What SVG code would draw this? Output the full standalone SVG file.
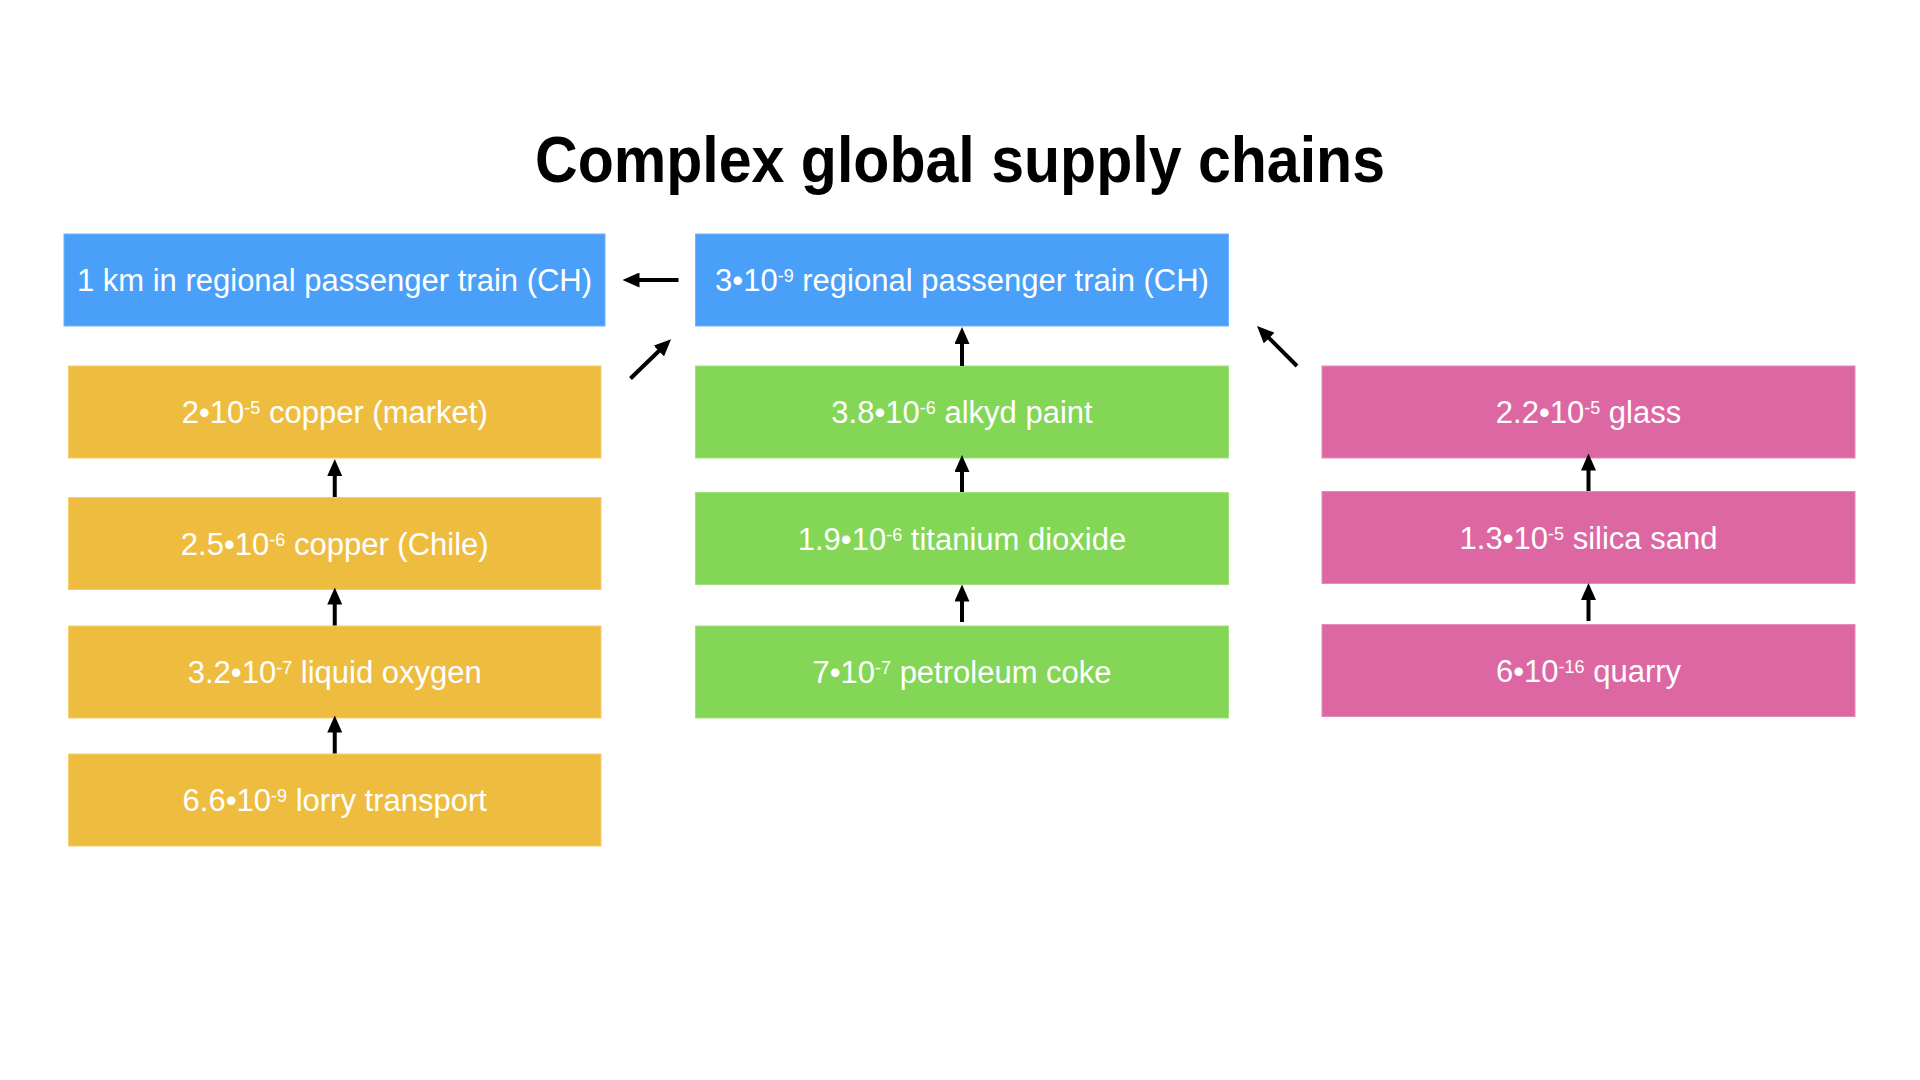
<svg xmlns="http://www.w3.org/2000/svg" width="1920" height="1080" viewBox="0 0 1920 1080">
  <defs>
    <style>
      .title { font-family: "Liberation Sans", Arial, Helvetica, sans-serif; font-weight: bold; font-size: 64px; fill: #000; }
      .lbl { font-family: "Liberation Sans", Arial, Helvetica, sans-serif; font-size: 31px; fill: #fff; text-anchor: middle; }
      .sup { font-size: 18px; }
      .train { fill: #4A9FF8; stroke: #6FB3FA; stroke-width: 1; }
      .copper { fill: #EEBD40; stroke: #F3CD6C; stroke-width: 1; }
      .paint { fill: #84D656; stroke: #A0E07C; stroke-width: 1; }
      .glass { fill: #DC67A2; stroke: #E58BB8; stroke-width: 1; }
      .link { stroke: #000; stroke-width: 4; fill: none; marker-end: url(#head); }
    </style>
    <marker id="head" viewBox="0 0 17 15" refX="9" refY="7.5" markerWidth="17" markerHeight="15" markerUnits="userSpaceOnUse" orient="auto">
      <path d="M0,0 L17,7.5 L0,15 Z" fill="#000"/>
    </marker>
  </defs>

  <rect width="1920" height="1080" fill="#fff"/>

  <text class="title" x="960" y="182" text-anchor="middle" textLength="850" lengthAdjust="spacingAndGlyphs">Complex global supply chains</text>

  <!-- final product and the train itself -->
  <g id="node-train-km">
    <rect class="train" x="64" y="234" width="541" height="92"/>
    <text class="lbl" x="334.5" y="291">1 km in regional passenger train (CH)</text>
  </g>
  <g id="node-train">
    <rect class="train" x="695.5" y="234" width="533" height="92"/>
    <text class="lbl" x="962" y="291">3•10<tspan class="sup" dy="-9">-9</tspan><tspan dy="9"> regional passenger train (CH)</tspan></text>
  </g>

  <!-- copper chain -->
  <g id="node-copper-market">
    <rect class="copper" x="68.5" y="366" width="532.5" height="92"/>
    <text class="lbl" x="334.75" y="423">2•10<tspan class="sup" dy="-9">-5</tspan><tspan dy="9"> copper (market)</tspan></text>
  </g>
  <g id="node-copper-chile">
    <rect class="copper" x="68.5" y="497.5" width="532.5" height="92"/>
    <text class="lbl" x="334.75" y="554.5">2.5•10<tspan class="sup" dy="-9">-6</tspan><tspan dy="9"> copper (Chile)</tspan></text>
  </g>
  <g id="node-liquid-oxygen">
    <rect class="copper" x="68.5" y="626" width="532.5" height="92"/>
    <text class="lbl" x="334.75" y="683">3.2•10<tspan class="sup" dy="-9">-7</tspan><tspan dy="9"> liquid oxygen</tspan></text>
  </g>
  <g id="node-lorry">
    <rect class="copper" x="68.5" y="754" width="532.5" height="92"/>
    <text class="lbl" x="334.75" y="811">6.6•10<tspan class="sup" dy="-9">-9</tspan><tspan dy="9"> lorry transport</tspan></text>
  </g>

  <!-- paint chain -->
  <g id="node-alkyd-paint">
    <rect class="paint" x="695.5" y="366" width="533" height="92"/>
    <text class="lbl" x="962" y="423">3.8•10<tspan class="sup" dy="-9">-6</tspan><tspan dy="9"> alkyd paint</tspan></text>
  </g>
  <g id="node-titanium-dioxide">
    <rect class="paint" x="695.5" y="492.5" width="533" height="92"/>
    <text class="lbl" x="962" y="549.5">1.9•10<tspan class="sup" dy="-9">-6</tspan><tspan dy="9"> titanium dioxide</tspan></text>
  </g>
  <g id="node-petroleum-coke">
    <rect class="paint" x="695.5" y="626" width="533" height="92"/>
    <text class="lbl" x="962" y="683">7•10<tspan class="sup" dy="-9">-7</tspan><tspan dy="9"> petroleum coke</tspan></text>
  </g>

  <!-- glass chain -->
  <g id="node-glass">
    <rect class="glass" x="1322" y="366" width="533" height="92"/>
    <text class="lbl" x="1588.5" y="423">2.2•10<tspan class="sup" dy="-9">-5</tspan><tspan dy="9"> glass</tspan></text>
  </g>
  <g id="node-silica-sand">
    <rect class="glass" x="1322" y="491.5" width="533" height="92"/>
    <text class="lbl" x="1588.5" y="548.5">1.3•10<tspan class="sup" dy="-9">-5</tspan><tspan dy="9"> silica sand</tspan></text>
  </g>
  <g id="node-quarry">
    <rect class="glass" x="1322" y="624.5" width="533" height="92"/>
    <text class="lbl" x="1588.5" y="681.5">6•10<tspan class="sup" dy="-9">-16</tspan><tspan dy="9"> quarry</tspan></text>
  </g>

  <!-- supply links: each arrow points from supplier to consumer -->
  <g id="connectors">
    <line class="link" x1="678.5" y1="280" x2="630.5" y2="280"/>
    <line class="link" x1="630.5" y1="378.5" x2="665.3" y2="344.7"/>
    <line class="link" x1="962" y1="366" x2="962" y2="335"/>
    <line class="link" x1="1297" y1="366" x2="1262.7" y2="331.7"/>

    <line class="link" x1="334.75" y1="497" x2="334.75" y2="467"/>
    <line class="link" x1="334.75" y1="625.5" x2="334.75" y2="595.5"/>
    <line class="link" x1="334.75" y1="753.5" x2="334.75" y2="723.5"/>

    <line class="link" x1="962" y1="492" x2="962" y2="463"/>
    <line class="link" x1="962" y1="622" x2="962" y2="592.5"/>

    <line class="link" x1="1588.5" y1="491" x2="1588.5" y2="461.5"/>
    <line class="link" x1="1588.5" y1="621" x2="1588.5" y2="591"/>
  </g>
</svg>
